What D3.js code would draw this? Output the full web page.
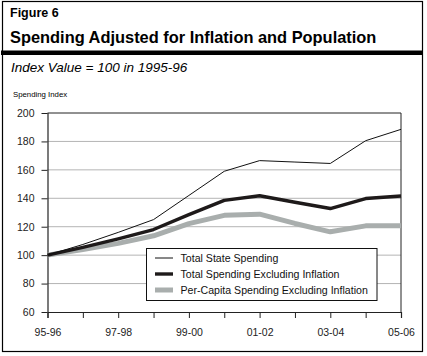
<!DOCTYPE html>
<html>
<head>
<meta charset="utf-8">
<script src="https://cdn.jsdelivr.net/npm/d3@7/dist/d3.min.js"></script>
<style>
  html, body { margin: 0; padding: 0; background: #fff; }
  svg { display: block; font-family: "Liberation Sans", Arial, Helvetica, sans-serif; }
</style>
</head>
<body>
<svg id="chart" width="427" height="356"></svg>
<script>
// ---- data ----
const years = ["95-96","96-97","97-98","98-99","99-00","00-01","01-02","02-03","03-04","04-05","05-06"];
const yearLabels = ["95-96","97-98","99-00","01-02","03-04","05-06"];
const totalState = [100, 107.5, 116, 125, 142, 159, 166.5, 165.5, 164.5, 180.5, 188.5];
const totalExclInflation = [100, 105.5, 111.5, 118, 128.5, 138.5, 141.8, 137.2, 132.8, 139.8, 141.6];
const perCapitaExclInflation = [100, 104, 108.3, 113.6, 122.2, 128, 128.8, 122.3, 116.4, 120.6, 120.6];
const yTicks = [60, 80, 100, 120, 140, 160, 180, 200];
const seriesNames = ["Total State Spending", "Total Spending Excluding Inflation", "Per-Capita Spending Excluding Inflation"];

const svg = d3.select("#chart");

// outer frame
svg.append("rect").attr("x", 2.5).attr("y", 1.5).attr("width", 420).attr("height", 350)
  .attr("fill", "none").attr("stroke", "#000").attr("stroke-width", 1.2);

// headings
svg.append("text").attr("x", 10).attr("y", 17).attr("font-size", 12.5).attr("font-weight", "bold")
  .attr("fill", "#000").text("Figure 6");
svg.append("text").attr("x", 10).attr("y", 42.5).attr("font-size", 16.4).attr("font-weight", "bold")
  .attr("fill", "#000").text("Spending Adjusted for Inflation and Population");
svg.append("rect").attr("x", 1).attr("y", 50.5).attr("width", 422).attr("height", 4.5).attr("fill", "#000");
svg.append("text").attr("x", 11).attr("y", 71.5).attr("font-size", 13.5).attr("font-style", "italic")
  .attr("fill", "#000").text("Index Value = 100 in 1995-96");
svg.append("text").attr("x", 13).attr("y", 97).attr("font-size", 7.8)
  .attr("fill", "#000").text("Spending Index");

// scales
const x = d3.scalePoint().domain(years).range([47.5, 401]);
const y = d3.scaleLinear().domain([60, 200]).range([312, 113]);

// gridlines
svg.append("g").selectAll("line").data(yTicks.filter(t => t > 60 && t < 200)).join("line")
  .attr("x1", 47.5).attr("x2", 401).attr("y1", d => y(d)).attr("y2", d => y(d))
  .attr("stroke", "#b4b4b4").attr("stroke-width", 1);

// plot frame (top + right)
svg.append("path")
  .attr("d", `M${x.range()[0]},${y(200)}H${x.range()[1]}V${y(60)}`)
  .attr("fill", "none").attr("stroke", "#222").attr("stroke-width", 1);

// axes
const yAxis = d3.axisLeft(y).tickValues(yTicks).tickSize(6).tickPadding(7).tickFormat(d3.format("d"));
const gy = svg.append("g").attr("transform", `translate(${x.range()[0]},0)`).call(yAxis);
const xAxis = d3.axisBottom(x).tickSize(6).tickPadding(11)
  .tickFormat(d => yearLabels.includes(d) ? d : "");
const gx = svg.append("g").attr("transform", `translate(0,${y(60)})`).call(xAxis);
[gx, gy].forEach(g => {
  g.select(".domain").attr("stroke", "#222").attr("stroke-width", 1.2);
  g.selectAll(".tick line").attr("stroke", "#222").attr("stroke-width", 1);
  g.selectAll(".tick text").attr("fill", "#222").attr("font-size", 10.5)
    .attr("font-family", "'Liberation Sans', Arial, sans-serif");
});
gy.select(".domain").attr("d", `M0.5,${y(200)}V${y(60)}`);

// lines
const line = d3.line().x((d, i) => x(years[i])).y(d => y(d));
const styles = [
  { data: totalState, color: "#111", width: 1 },
  { data: totalExclInflation, color: "#1e1a1a", width: 3.4 },
  { data: perCapitaExclInflation, color: "#a9aead", width: 5 }
];
// draw gray first, then black thick, then thin
[2, 1, 0].forEach(k => {
  svg.append("path").datum(styles[k].data).attr("d", line)
    .attr("fill", "none").attr("stroke", styles[k].color)
    .attr("stroke-width", styles[k].width).attr("stroke-linejoin", "round");
});

// legend
const lg = svg.append("g");
lg.append("rect").attr("x", 146.5).attr("y", 248.5).attr("width", 230.5).attr("height", 52)
  .attr("fill", "#fff").attr("stroke", "#111").attr("stroke-width", 1);
seriesNames.forEach((name, i) => {
  const yy = 258 + i * 16;
  lg.append("line").attr("x1", 155).attr("x2", 173).attr("y1", yy).attr("y2", yy)
    .attr("stroke", styles[i].color).attr("stroke-width", styles[i].width);
  lg.append("text").attr("x", 180.5).attr("y", yy + 4).attr("font-size", 10.6)
    .attr("fill", "#111").text(name);
});
</script>
</body>
</html>
